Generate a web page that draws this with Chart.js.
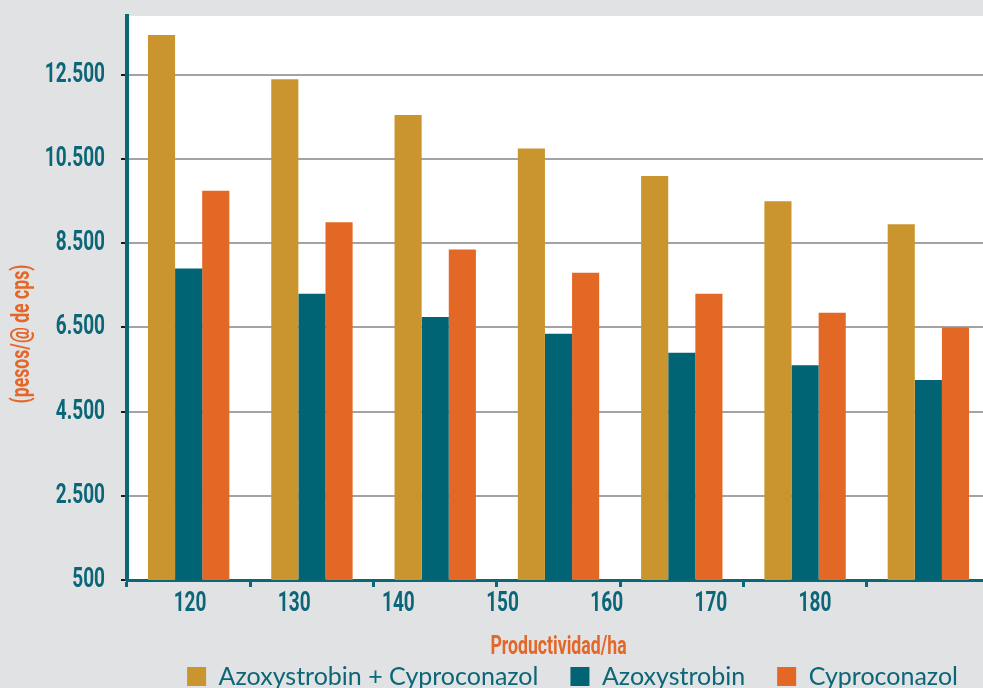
<!DOCTYPE html>
<html lang="es">
<head>
    <meta charset="UTF-8">
    <title>Productividad/ha</title>
    <style>
        html, body { margin: 0; padding: 0; background: #e1e2e4; overflow: hidden; }
        canvas { display: block; }
    </style>
</head>
<body>

<canvas id="grafico" width="990" height="688"></canvas>

<script src="https://cdn.jsdelivr.net/npm/chart.js"></script>

<script>
    // valores por productividad (pesos/@ de cps)
    const productividad = ['120', '130', '140', '150', '160', '170', '180'];
    const azoxyCypro = [13450, 12400, 11550, 10750, 10100, 9500, 8950];
    const azoxy = [7900, 7300, 6750, 6350, 5900, 5600, 5250];
    const cypro = [9750, 9000, 8350, 7800, 7300, 6850, 6500];
    const yTicks = [500, 2500, 4500, 6500, 8500, 10500, 12500];

    const TEAL = '#0b6678';
    const NARANJA = '#e4672a';
    const ANGOSTA = 'Roboto'; // se dibuja estrechada, ver plugin condensar

    Chart.defaults.font.family = ANGOSTA;

    function miles(v) {
        return String(v).replace(/\B(?=(\d{3})+(?!\d))/g, '.'); // 12500 -> 12.500
    }

    // los rotulos en Roboto se comprimen a lo ancho (efecto condensada)
    const condensar = {
        id: 'condensar',
        beforeInit(chart) {
            const ctx = chart.ctx;
            const fill = ctx.fillText.bind(ctx);
            ctx.fillText = function (text, x, y, maxWidth) {
                if (ctx.font.indexOf(ANGOSTA) >= 0) {
                    maxWidth = ctx.measureText(text).width * 0.68;
                }
                if (maxWidth === undefined) fill(text, x, y);
                else fill(text, x, y, maxWidth);
            };
        }
    };

    // fondo blanco solo en el area de barras
    const fondo = {
        id: 'fondo',
        beforeDraw(chart) {
            const {ctx, chartArea: a} = chart;
            ctx.save();
            ctx.fillStyle = '#ffffff';
            ctx.fillRect(a.left, a.top, a.right - a.left, a.bottom - a.top);
            ctx.restore();
        }
    };

    // titulo vertical del eje y
    const tituloY = {
        id: 'tituloY',
        afterDraw(chart) {
            const ctx = chart.ctx;
            ctx.save();
            ctx.translate(22, 334);
            ctx.rotate(-Math.PI / 2);
            ctx.font = 'bold 26px ' + ANGOSTA;
            ctx.fillStyle = NARANJA;
            ctx.textAlign = 'center';
            ctx.textBaseline = 'middle';
            ctx.fillText('(pesos/@ de cps)', 0, 0);
            ctx.restore();
        }
    };

    new Chart(document.getElementById('grafico'), {
        type: 'bar',
        data: {
            labels: productividad,
            datasets: [
                {label: 'Azoxystrobin + Cyproconazol', data: azoxyCypro, backgroundColor: '#ca952f'},
                {label: 'Azoxystrobin', data: azoxy, backgroundColor: '#006475'},
                {label: 'Cyproconazol', data: cypro, backgroundColor: '#e36826'}
            ]
        },
        options: {
            responsive: false,
            animation: false,
            layout: {padding: {top: 16, bottom: -11, left: 0, right: 0}},
            datasets: {bar: {categoryPercentage: 0.66, barPercentage: 1, borderWidth: 0}},
            plugins: {
                tooltip: {enabled: false},
                legend: {
                    position: 'bottom',
                    align: 'end',
                    labels: {
                        boxWidth: 19,
                        boxHeight: 19,
                        padding: 32,
                        color: TEAL,
                        font: {family: 'Lato', size: 25}
                    }
                }
            },
            scales: {
                x: {
                    weight: 0,
                    ticks: {display: false},
                    grid: {drawOnChartArea: false, tickLength: 7, tickColor: TEAL, tickWidth: 3},
                    border: {color: TEAL, width: 3},
                    afterFit(s) { s.height = 7; }
                },
                // eje solo para los rotulos 120..180
                xl: {
                    type: 'linear',
                    position: 'bottom',
                    weight: 1,
                    offset: false,
                    bounds: 'data',
                    min: 113.95,
                    max: 196.8,
                    grid: {display: false, drawTicks: false},
                    border: {display: false},
                    afterBuildTicks(s) { s.ticks = productividad.map(p => ({value: Number(p)})); },
                    ticks: {
                        color: TEAL,
                        padding: 0,
                        font: {size: 28, weight: 'bold'},
                        callback: v => String(v)
                    },
                    title: {
                        display: true,
                        text: 'Productividad/ha',
                        color: NARANJA,
                        font: {size: 26, weight: 'bold'},
                        padding: {top: 0, bottom: -31}
                    },
                    afterFit(s) {
                        s.height = 45;
                        s.paddingLeft = 0;
                        s.paddingRight = 0;
                    }
                },
                y: {
                    min: 500,
                    max: 13900,
                    afterBuildTicks(s) { s.ticks = yTicks.map(v => ({value: v})); },
                    ticks: {
                        color: TEAL,
                        padding: 16,
                        font: {size: 28, weight: 'bold'},
                        callback: v => miles(v)
                    },
                    grid: {color: '#a3a3a6', lineWidth: 2, tickColor: '#1b1b1b', tickLength: 6, tickWidth: 2},
                    border: {color: TEAL, width: 4},
                    afterFit(s) {
                        s.width = 127;
                        s.paddingTop = 0;
                        s.paddingBottom = 0;
                    }
                }
            }
        },
        plugins: [condensar, fondo, tituloY]
    });
</script>

</body>
</html>
